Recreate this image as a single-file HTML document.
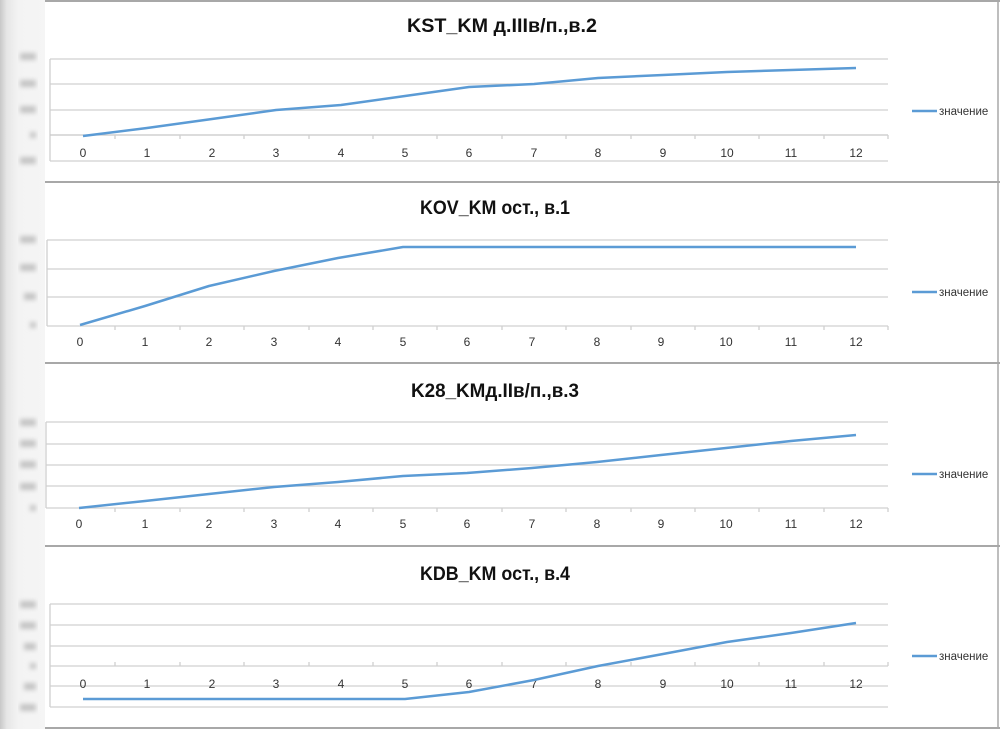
<!DOCTYPE html>
<html><head><meta charset="utf-8"><style>
html,body{margin:0;padding:0;background:#fff;}
svg{display:block;}
text{font-family:"Liberation Sans",sans-serif;}
</style></head><body>
<svg width="1000" height="729" viewBox="0 0 1000 729" xmlns="http://www.w3.org/2000/svg">
<defs>
<linearGradient id="lg" x1="0" x2="1" y1="0" y2="0">
<stop offset="0" stop-color="#c8c8c8"/><stop offset="0.15" stop-color="#e6e6e6"/><stop offset="0.4" stop-color="#f3f3f3"/><stop offset="1" stop-color="#f5f5f5"/>
</linearGradient>
<filter id="bl"><feGaussianBlur stdDeviation="2.5"/></filter>
</defs>
<rect x="0" y="0" width="45" height="729" fill="url(#lg)"/>
<g fill="#c4c4c4" filter="url(#bl)">
<rect x="20" y="53" width="16" height="7"/><rect x="20" y="80" width="16" height="7"/><rect x="20" y="106" width="16" height="7"/><rect x="30" y="132" width="6" height="6"/><rect x="20" y="157" width="16" height="7"/>
<rect x="20" y="236" width="16" height="7"/><rect x="20" y="264" width="16" height="7"/><rect x="24" y="293" width="12" height="7"/><rect x="30" y="322" width="6" height="6"/>
<rect x="20" y="419" width="16" height="7"/><rect x="20" y="440" width="16" height="7"/><rect x="20" y="461" width="16" height="7"/><rect x="20" y="483" width="16" height="7"/><rect x="30" y="505" width="6" height="6"/>
<rect x="20" y="601" width="16" height="7"/><rect x="20" y="622" width="16" height="7"/><rect x="24" y="643" width="12" height="7"/><rect x="30" y="663" width="6" height="6"/><rect x="24" y="683" width="12" height="7"/><rect x="20" y="704" width="16" height="7"/>
</g>
<g stroke="#a8a8a8" stroke-width="2">
<line x1="45" y1="1" x2="1000" y2="1"/>
<line x1="45" y1="182" x2="1000" y2="182"/>
<line x1="45" y1="363" x2="1000" y2="363"/>
<line x1="45" y1="546" x2="1000" y2="546"/>
<line x1="45" y1="728" x2="1000" y2="728"/>
</g>
<line x1="998" y1="0" x2="998" y2="729" stroke="#a8a8a8" stroke-width="1.5"/>

<g stroke="#d0d0d0" stroke-width="1.3" fill="none">
<path d="M50 59H888M50 84H888M50 110H888M50 161H888M50 59V161"/>
<path d="M50 135H888" stroke="#c8c8c8"/>
<path d="M115 135v4M180 135v4M244 135v4M309 135v4M373 135v4M437 135v4M502 135v4M566 135v4M631 135v4M695 135v4M759 135v4M824 135v4M888 135v4"/>
<path d="M47 240H888M47 269H888M47 297H888M47 326H888M47 240V326"/>
<path d="M115 326v4M180 326v4M244 326v4M309 326v4M373 326v4M437 326v4M502 326v4M566 326v4M631 326v4M695 326v4M759 326v4M824 326v4M888 326v4"/>
<path d="M46 422H888M46 444H888M46 465H888M46 486H888M46 508H888M46 422V508"/>
<path d="M115 508v4M180 508v4M244 508v4M309 508v4M373 508v4M437 508v4M502 508v4M566 508v4M631 508v4M695 508v4M759 508v4M824 508v4M888 508v4"/>
<path d="M50 604H888M50 625H888M50 646H888M50 666H888M50 686H888M50 707H888M50 604V707"/>
<path d="M115 666v-4M180 666v-4M244 666v-4M309 666v-4M373 666v-4M437 666v-4M502 666v-4M566 666v-4M631 666v-4M695 666v-4M759 666v-4M824 666v-4M888 666v-4"/>
</g>

<g font-size="12" fill="#333" text-anchor="middle">
<g transform="translate(0,157)"><text x="83">0</text><text x="147">1</text><text x="212">2</text><text x="276">3</text><text x="341">4</text><text x="405">5</text><text x="469">6</text><text x="534">7</text><text x="598">8</text><text x="663">9</text><text x="727">10</text><text x="791">11</text><text x="856">12</text></g>
<g transform="translate(0,346)"><text x="80">0</text><text x="145">1</text><text x="209">2</text><text x="274">3</text><text x="338">4</text><text x="403">5</text><text x="467">6</text><text x="532">7</text><text x="597">8</text><text x="661">9</text><text x="726">10</text><text x="791">11</text><text x="856">12</text></g>
<g transform="translate(0,528)"><text x="79">0</text><text x="145">1</text><text x="209">2</text><text x="274">3</text><text x="338">4</text><text x="403">5</text><text x="467">6</text><text x="532">7</text><text x="597">8</text><text x="661">9</text><text x="726">10</text><text x="791">11</text><text x="856">12</text></g>
<g transform="translate(0,688)"><text x="83">0</text><text x="147">1</text><text x="212">2</text><text x="276">3</text><text x="341">4</text><text x="405">5</text><text x="469">6</text><text x="534">7</text><text x="598">8</text><text x="663">9</text><text x="727">10</text><text x="791">11</text><text x="856">12</text></g>
</g>

<g font-size="19" font-weight="bold" fill="#111" text-anchor="middle">
<text x="502" y="32" textLength="190" lengthAdjust="spacingAndGlyphs">KST_KM д.IIIв/п.,в.2</text>
<text x="495" y="214" textLength="150" lengthAdjust="spacingAndGlyphs">KOV_KM ост., в.1</text>
<text x="495" y="397" textLength="168" lengthAdjust="spacingAndGlyphs">K28_KMд.IIв/п.,в.3</text>
<text x="495" y="580" textLength="150" lengthAdjust="spacingAndGlyphs">KDB_KM ост., в.4</text>
</g>

<g stroke="#5b9bd5" stroke-width="2.5" fill="none" stroke-linejoin="round">
<polyline points="83,136 147,128 212,119 276,110 341,105 405,96 469,87 534,84 598,78 663,75 727,72 791,70 856,68"/>
<polyline points="80,325 145,306 209,286 274,271 338,258 403,247 467,247 532,247 597,247 661,247 726,247 791,247 856,247"/>
<polyline points="79,508 145,501 209,494 274,487 338,482 403,476 467,473 532,468 597,462 661,455 726,448 791,441 856,435"/>
<polyline points="83,699 147,699 212,699 276,699 341,699 405,699 469,692 534,680 598,666 663,654 727,642 791,633 856,623"/>
<path d="M912 111H937M912 292H937M912 474H937M912 656H937"/>
</g>
<g font-size="11.5" fill="#333">
<text x="939" y="115">значение</text><text x="939" y="296">значение</text><text x="939" y="478">значение</text><text x="939" y="660">значение</text>
</g>
</svg>
</body></html>
